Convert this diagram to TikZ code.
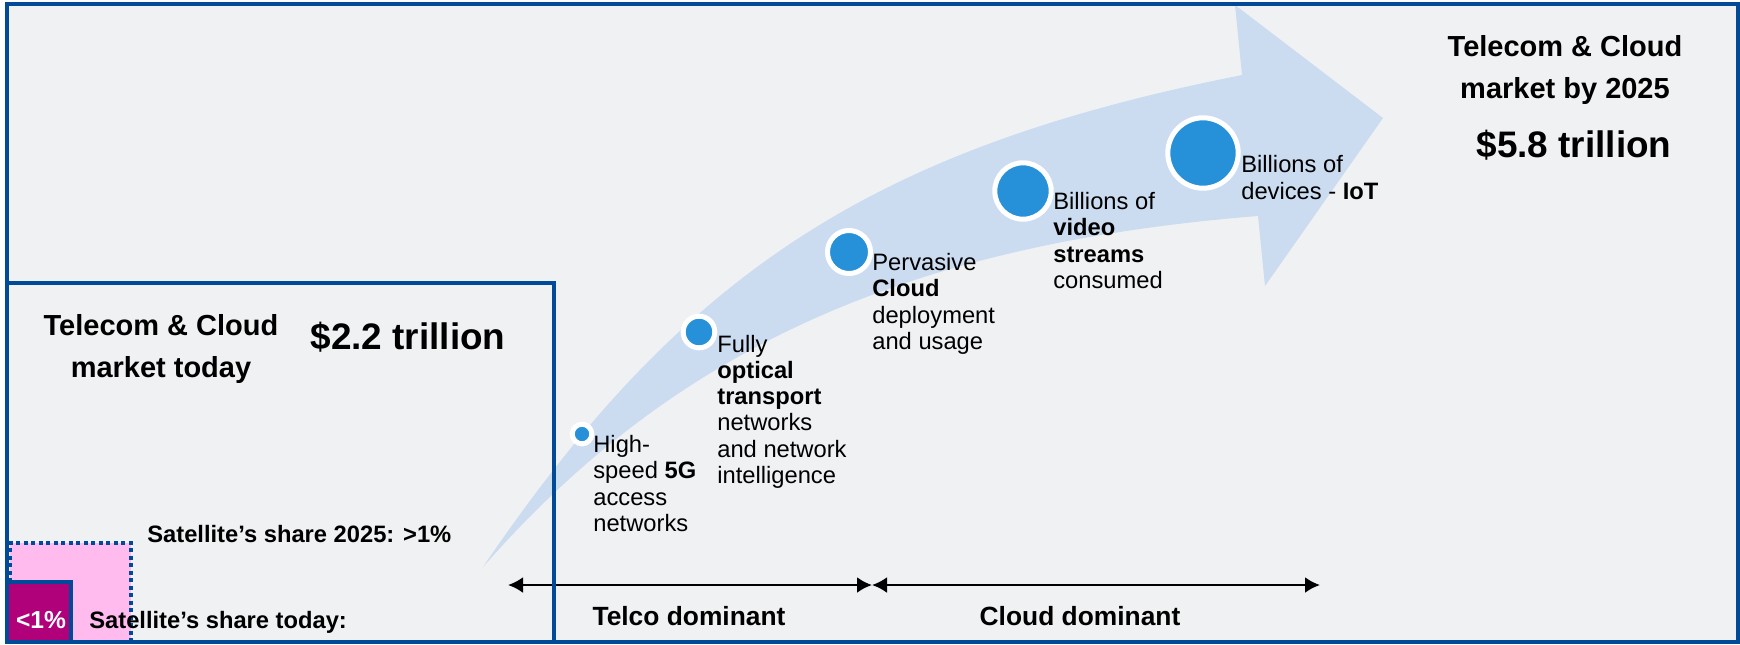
\documentclass[tikz,border=0pt]{standalone}
\usepackage{fontspec}
\setmainfont{Liberation Sans}
\usetikzlibrary{arrows.meta}

\definecolor{framblue}{RGB}{0,74,151}
\definecolor{bggray}{RGB}{240,241,243}
\definecolor{arrowcol}{RGB}{204,220,240}
\definecolor{dotblue}{RGB}{38,144,216}
\definecolor{pinkcol}{RGB}{255,187,238}
\definecolor{magcol}{RGB}{176,0,122}

\begin{document}
\begin{tikzpicture}[x=0.2mm,y=-0.2mm,
  outerbox/.style={draw=framblue,line width=0.8mm},
  dotline/.style={draw=framblue,line width=0.8mm,dash pattern=on 0.8mm off 0.7mm},
  bubble/.style={circle,fill=dotblue,draw=white,line width=1mm,inner sep=0pt},
  txt/.style={anchor=base west,align=left,inner sep=0pt,font=\fontsize{13.5}{14.8}\selectfont},
  headline/.style={anchor=base,align=center,inner sep=0pt,font=\bfseries\fontsize{16.5}{23.5}\selectfont},
  money/.style={anchor=base,inner sep=0pt,font=\bfseries\fontsize{21}{25}\selectfont},
  sat/.style={anchor=base west,inner sep=0pt,font=\bfseries\fontsize{13.5}{16}\selectfont},
  spanarrow/.style={<->,>={Latex[length=3mm,width=3.2mm]},line width=0.5mm}]
\useasboundingbox (0,0) rectangle (1740,644);
\fill[bggray] (7,4) rectangle (1738,642);

% growth arrow
\fill[arrowcol] (483,567) .. controls (684,271) and (874,148) .. (1242,75)
  -- (1235,5) -- (1383,118) -- (1265,286) -- (1258,216)
  .. controls (907,244) and (674,349) .. (483,567) -- cycle;

% satellite share boxes
\fill[pinkcol] (10,543) rectangle (131,642);
\draw[dotline] (10,642) -- (10,543) -- (131,543) -- (131,642);
\fill[magcol] (7,582) rectangle (71,642);
\draw[outerbox] (7,582) -- (71,582) -- (71,642);
\node[anchor=base,inner sep=0pt,text=white,font=\bfseries\fontsize{14}{16}\selectfont] (satpct) at (41,628) {<1\%};
\node[sat] (sat25) at (147,542) {Satellite’s share 2025: >1\%};
\node[sat] (sattoday) at (89,628) {Satellite’s share today:};

% milestones (base = last line)
\node[bubble,minimum size=3.92mm] (dot5g) at (582,434) {};
\node[bubble,minimum size=6.32mm] (dotoptic) at (699,332) {};
\node[bubble,minimum size=8.6mm] (dotcloud) at (849,252) {};
\node[bubble,minimum size=11.28mm] (dotvideo) at (1023,191) {};
\node[bubble,minimum size=14.08mm] (dotiot) at (1203,153) {};
\node[txt] (txt5g) at (593,531) {High-\\speed \textbf{5G}\\access\\networks};
\node[txt] (txtoptic) at (717,483) {Fully\\\textbf{optical}\\\textbf{transport}\\networks\\and network\\intelligence};
\node[txt] (txtcloud) at (872,349) {Pervasive\\\textbf{Cloud}\\deployment\\and usage};
\node[txt] (txtvideo) at (1053,288) {Billions of\\\textbf{video}\\\textbf{streams}\\consumed};
\node[txt] (txtiot) at (1241,199) {Billions of\\devices - \textbf{IoT}};

% market sizes
\node[headline] (todaytitle) at (161,377) {Telecom \& Cloud\\market today};
\node[money] (todayvalue) at (408,349) {\$2.2 trillion};
\node[headline] (futuretitle) at (1565,98) {Telecom \& Cloud\\market by 2025};
\node[money] (futurevalue) at (1574,157) {\$5.8 trillion};

% dominance spans
\coordinate (telcoL) at (508,585);
\coordinate (split) at (872,585);
\coordinate (cloudR) at (1320,585);
\draw[spanarrow] (telcoL) -- (split);
\draw[spanarrow] (split) -- (cloudR);
\node[anchor=base,inner sep=0pt,font=\bfseries\fontsize{15}{18}\selectfont] (telcolbl) at (689,625) {Telco dominant};
\node[anchor=base,inner sep=0pt,font=\bfseries\fontsize{15}{18}\selectfont] (cloudlbl) at (1080,625) {Cloud dominant};

% frames
\draw[outerbox] (7,283) -- (554,283) -- (554,642);
\draw[outerbox] (7,4) rectangle (1738,642);
\end{tikzpicture}
\end{document}
